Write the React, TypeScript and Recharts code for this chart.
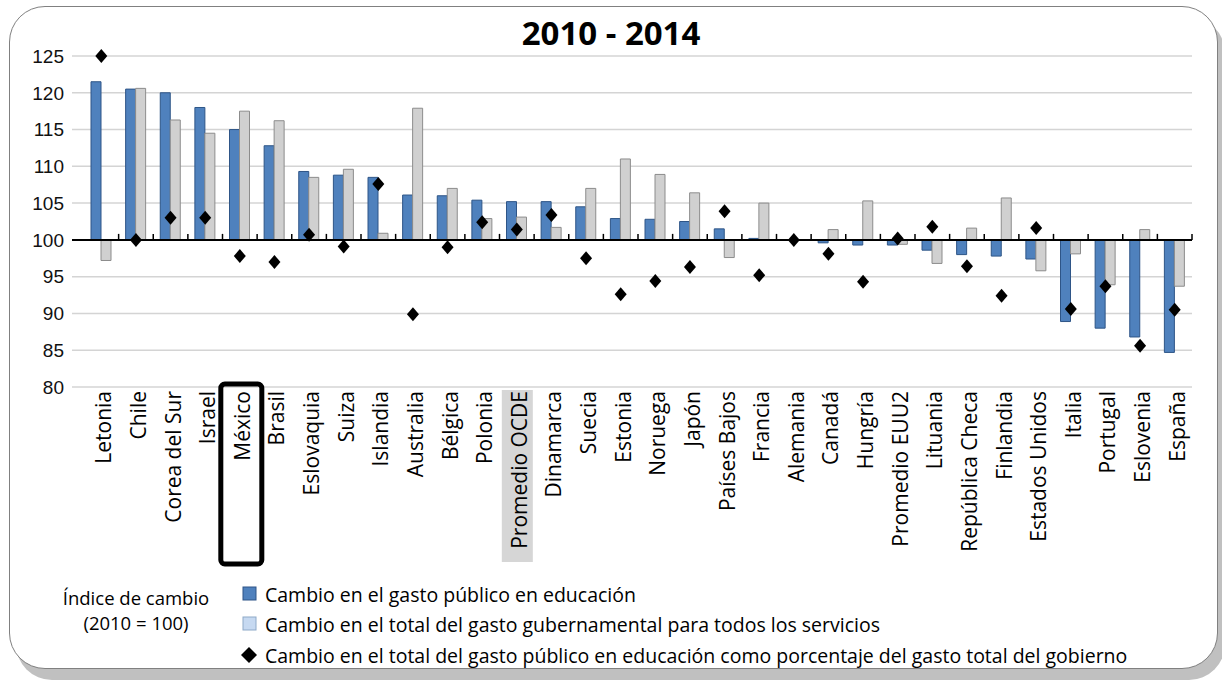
import React from 'react'
import {
  ComposedChart, Bar, Scatter, XAxis, YAxis, CartesianGrid, ReferenceLine
} from 'recharts'

const countries = [
  'Letonia', 'Chile', 'Corea del Sur', 'Israel', 'México', 'Brasil', 'Eslovaquia', 'Suiza',
  'Islandia', 'Australia', 'Bélgica', 'Polonia', 'Promedio OCDE', 'Dinamarca', 'Suecia', 'Estonia',
  'Noruega', 'Japón', 'Países Bajos', 'Francia', 'Alemania', 'Canadá', 'Hungría', 'Promedio EUU2',
  'Lituania', 'República Checa', 'Finlandia', 'Estados Unidos', 'Italia', 'Portugal', 'Eslovenia', 'España',
]

// índice 2010 = 100
const eduSpend = [
  121.5, 120.5, 120.0, 118.0, 115.0, 112.8, 109.3, 108.8, 108.5, 106.1, 106.0, 105.4, 105.2, 105.2, 104.5, 102.9,
  102.8, 102.5, 101.5, 100.2, 100.0, 99.6, 99.3, 99.3, 98.6, 98.0, 97.8, 97.4, 88.9, 88.0, 86.8, 84.7,
]
const govSpend = [
  97.2, 120.6, 116.3, 114.5, 117.5, 116.2, 108.5, 109.6, 100.9, 117.9, 107.0, 102.9, 103.1, 101.7, 107.0, 111.0,
  108.9, 106.4, 97.6, 105.0, 100.0, 101.4, 105.3, 99.4, 96.8, 101.6, 105.7, 95.8, 98.1, 93.9, 101.4, 93.7,
]
const eduShare = [
  125.0, 100.0, 103.0, 103.0, 97.8, 97.0, 100.7, 99.1, 107.6, 89.9, 99.0, 102.4, 101.4, 103.4, 97.5, 92.6,
  94.4, 96.3, 103.9, 95.2, 100.0, 98.1, 94.3, 100.2, 101.8, 96.4, 92.4, 101.6, 90.6, 93.7, 85.6, 90.5,
]

const yTicks = [80, 85, 90, 95, 100, 105, 110, 115, 120, 125]
const BASE = 100
const PAD_LEFT = 12

const data = countries.map((name, i) => ({
  name,
  edu: eduSpend[i],
  gov: govSpend[i],
  share: eduShare[i],
}))

// bars grow from the 100 baseline, up or down
const fromBase = (key: 'edu' | 'gov') => (d: any) => [Math.min(BASE, d[key]), Math.max(BASE, d[key])]

const BLUE = '#4F81BD'
const BLUE_EDGE = '#2E5587'
const GREY = '#D0D0D0'
const GREY_EDGE = '#8C8C8C'
const LABEL_FONT = '"Open Sans", "Noto Sans", sans-serif'
const LEGEND_SIZE = 19.5

function Diamond(props: any) {
  const { cx, cy } = props
  if (cx == null || cy == null) return null
  return <path d={`M${cx} ${cy - 7}L${cx + 6} ${cy}L${cx} ${cy + 7}L${cx - 6} ${cy}Z`} fill="#000" />
}

// baseline at 100 with small marks between categories
function BaseLine(props: any) {
  const { x1, x2, y1 } = props
  const n = countries.length
  const step = (x2 - x1 - PAD_LEFT) / n
  const marks = []
  for (let i = 1; i <= n; i++) {
    const x = x1 + PAD_LEFT + i * step
    marks.push(<line key={i} x1={x} x2={x} y1={y1 - 6} y2={y1} stroke="#000" strokeWidth={1.5} />)
  }
  return (
    <g>
      <line x1={x1} x2={x2} y1={y1} y2={y1} stroke="#000" strokeWidth={2} />
      {marks}
    </g>
  )
}

function CountryTick(props: any) {
  const { x, y, payload } = props
  const name = payload.value
  return (
    <g transform={`translate(${x},${y})`}>
      {name === 'Promedio OCDE' && <rect x={-15} y={3} width={31} height={172} fill="#D6D6D6" />}
      {name === 'México' && (
        <rect x={-19} y={-3} width={41} height={180} rx={4} fill="none" stroke="#000" strokeWidth={5} />
      )}
      <text
        transform="rotate(-90)"
        x={-4}
        y={2}
        textAnchor="end"
        dominantBaseline="central"
        fontFamily={LABEL_FONT}
        fontSize={21}
        fill="#000"
      >
        {name}
      </text>
    </g>
  )
}

function Legend() {
  const items = [
    { text: 'Cambio en el gasto público en educación', y: 594, kind: 'blue' },
    { text: 'Cambio en el total del gasto gubernamental para todos los servicios', y: 624, kind: 'light' },
    { text: 'Cambio en el total del gasto público en educación como porcentaje del gasto total del gobierno', y: 655, kind: 'diamond' },
  ]
  return (
    <svg width={1222} height={681} style={{ position: 'absolute', left: 0, top: 0, pointerEvents: 'none' }}>
      <text x={136} y={597} textAnchor="middle" dominantBaseline="central" fontFamily={LABEL_FONT} fontSize={18.5} fill="#000">
        Índice de cambio
      </text>
      <text x={136} y={622} textAnchor="middle" dominantBaseline="central" fontFamily={LABEL_FONT} fontSize={18.5} fill="#000">
        (2010 = 100)
      </text>
      {items.map(it => (
        <g key={it.text}>
          {it.kind === 'blue' && <rect x={243} y={it.y - 7} width={13} height={13} fill={BLUE} stroke={BLUE_EDGE} />}
          {it.kind === 'light' && <rect x={243} y={it.y - 7} width={13} height={13} fill="#C6D9F1" stroke="#8EA9C8" />}
          {it.kind === 'diamond' && <path d={`M249 ${it.y - 8}L257 ${it.y}L249 ${it.y + 8}L241 ${it.y}Z`} fill="#000" />}
          <text x={265} y={it.y} dominantBaseline="central" fontFamily={LABEL_FONT} fontSize={LEGEND_SIZE} fill="#000">
            {it.text}
          </text>
        </g>
      ))}
    </svg>
  )
}

export default function App() {
  return (
    <div style={{ position: 'absolute', left: 0, top: 0, width: 1222, height: 681, background: '#fff', overflow: 'hidden' }}>
      <div
        style={{
          position: 'absolute', left: 9, top: 6, width: 1207, height: 661,
          border: '1.5px solid #808080', borderRadius: 36, background: '#fff',
          boxShadow: '7px 11px 0 #C0C0C0',
        }}
      />
      <div
        style={{
          position: 'absolute', left: 0, width: 1222, top: 12, textAlign: 'center',
          fontFamily: LABEL_FONT, fontWeight: 700, fontSize: 33, lineHeight: '42px', color: '#000',
        }}
      >
        2010 - 2014
      </div>
      <ComposedChart
        width={1222}
        height={681}
        data={data}
        margin={{ top: 56, right: 30, bottom: 0, left: 0 }}
        barGap={0}
        style={{ position: 'absolute', left: 0, top: 0 }}
      >
        <CartesianGrid vertical={false} stroke="#D4D4D4" strokeWidth={1.5} />
        <XAxis
          dataKey="name"
          interval={0}
          height={294}
          axisLine={false}
          tickLine={false}
          tickSize={0}
          tickMargin={0}
          padding={{ left: PAD_LEFT, right: 0 }}
          tick={<CountryTick />}
        />
        <YAxis
          domain={[80, 125]}
          ticks={yTicks}
          width={72}
          axisLine={false}
          tickLine={false}
          tickSize={0}
          tickMargin={8}
          tick={{ fill: '#111', fontSize: 19, fontFamily: '"Liberation Sans", Arial, sans-serif' }}
        />
        <Bar dataKey={fromBase('edu')} barSize={10} fill={BLUE} stroke={BLUE_EDGE} strokeWidth={1} isAnimationActive={false} />
        <Bar dataKey={fromBase('gov')} barSize={10} fill={GREY} stroke={GREY_EDGE} strokeWidth={1} isAnimationActive={false} />
        <ReferenceLine y={BASE} shape={<BaseLine />} />
        <Scatter dataKey="share" shape={<Diamond />} isAnimationActive={false} />
      </ComposedChart>
      <Legend />
    </div>
  )
}
